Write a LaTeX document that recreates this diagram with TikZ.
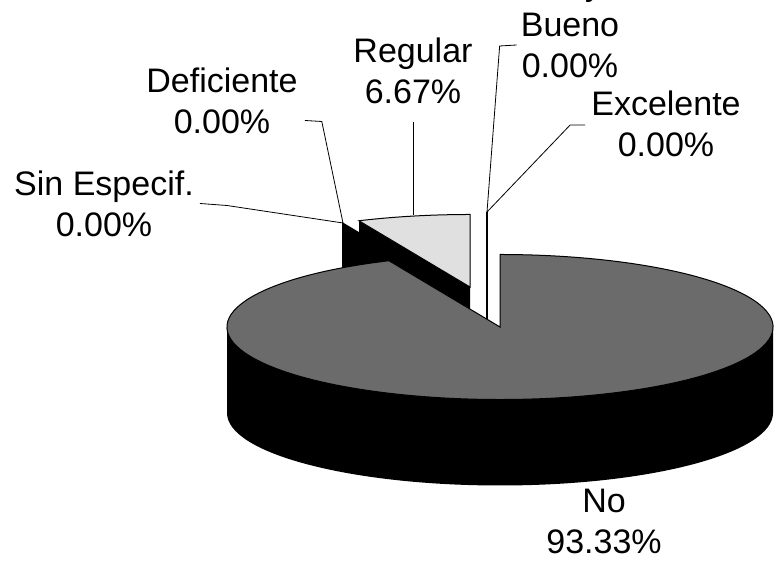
\documentclass[tikz,border=0pt]{standalone}
\usepackage{fontspec}
\setmainfont{Liberation Sans}
\begin{document}
\begin{tikzpicture}[x=1pt,y=1pt,
    lbl/.style={align=center,inner sep=0pt,font=\fontsize{34}{41}\selectfont},
    leader/.style={draw=black,line width=0.8pt},
    sidewall/.style={fill=black},
    ]
    \useasboundingbox (0,0) rectangle (774,561);
    % 0% slices behind Regular (Deficiente, Sin Especif.)
    \fill[sidewall] (453,273) -- (342,339) -- (342,257) -- (453,191) -- cycle;
    % 0% slices at the back (Bueno, Excelente)
    \draw[line width=1.2pt] (487,349) -- (487,195);
    % Regular, exploded
    \fill[sidewall] (470,274) -- (359,340) -- (359,258) -- (470,192) -- cycle;
    \filldraw[fill=black!12,draw=black,line width=1pt] (470,274) -- ++(90:273 and 72.5)
        arc[start angle=90,end angle=114,x radius=273,y radius=72.5] -- cycle;
    % No
    \fill[sidewall] (227,234) -- (227,148)
        arc[start angle=180,end angle=360,x radius=273,y radius=72.5] -- (773,234) -- cycle;
    \filldraw[fill=black!58,draw=black,line width=1pt] (500,234) -- ++(114:273 and 72.5)
        arc[start angle=114,end angle=450,x radius=273,y radius=72.5] -- cycle;
    % labels
    \node[lbl] (sinesp) at (104,357.5) {Sin Especif.\\0.00\%};
    \node[lbl] (deficiente) at (222,460.5) {Deficiente\\0.00\%};
    \node[lbl] (regular) at (413,490.5) {Regular\\6.67\%};
    \node[lbl] (bueno) at (570,536) {Muy\\Bueno\\0.00\%};
    \node[lbl] (excelente) at (666,437.5) {Excelente\\0.00\%};
    \node[lbl] (no) at (604,40) {No\\93.33\%};
    % leader lines
    \coordinate (wallpt) at (343,338);
    \coordinate (regpt) at (413,346);
    \coordinate (planept) at (487,349);
    \draw[leader] ([xshift=6]sinesp.east) -- ++(27,-2) -- (wallpt);
    \draw[leader] ([shift={(7,-20)}]deficiente.east) -- ++(17,-1) -- (wallpt);
    \draw[leader] ([yshift=-18]regular.south) -- (regpt);
    \draw[leader] ([shift={(-4,-20)}]bueno.west) -- ++(-17,-1) -- (planept);
    \draw[leader] ([shift={(-6,-1.5)}]excelente.west) -- ++(-15,0) -- (planept);
\end{tikzpicture}
\end{document}
